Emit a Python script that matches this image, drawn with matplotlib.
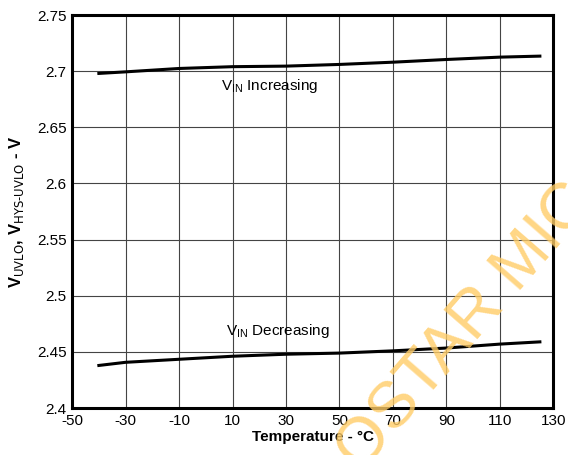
import matplotlib
matplotlib.use("Agg")
import matplotlib.pyplot as plt
import numpy as np

# Data
temp = [-40, -30, -10, 10, 30, 50, 70, 90, 110, 125]
v_increasing = [2.698, 2.6994, 2.7024, 2.704, 2.7045, 2.706, 2.708, 2.7104, 2.7125, 2.7134]
v_decreasing = [2.438, 2.4408, 2.4435, 2.4462, 2.448, 2.449, 2.451, 2.4535, 2.457, 2.459]

x_ticks = [-50, -30, -10, 10, 30, 50, 70, 90, 110, 130]
y_ticks = [2.4, 2.45, 2.5, 2.55, 2.6, 2.65, 2.7, 2.75]
y_ticklabels = ["2.4", "2.45", "2.5", "2.55", "2.6", "2.65", "2.7", "2.75"]

plt.rcParams['font.family'] = ['Liberation Sans', 'DejaVu Sans']
plt.rcParams['axes.unicode_minus'] = False

fig = plt.figure(figsize=(5.68, 4.55), dpi=100)
ax = fig.add_axes([0.127, 0.103, 0.847, 0.864])

ax.plot(temp, v_increasing, color='black', linewidth=2.2)
ax.plot(temp, v_decreasing, color='black', linewidth=2.2)

ax.set_xlim(-50, 130)
ax.set_ylim(2.4, 2.75)
ax.set_xticks(x_ticks)
ax.set_yticks(y_ticks)
ax.set_yticklabels(y_ticklabels)
ax.tick_params(length=0, labelsize=11, pad=4)
ax.grid(True, color='#444444', linewidth=0.8)
for s in ax.spines.values():
    s.set_linewidth(2.2)

ax.text(5.8, 2.6866, r'V$_{\mathregular{IN}}$ Increasing', fontsize=11, va='center', ha='left')
ax.text(7.6, 2.4687, r'V$_{\mathregular{IN}}$ Decreasing', fontsize=11, va='center', ha='left')

ax.set_xlabel('Temperature - °C', fontsize=11, fontweight='bold', labelpad=2)
ax.set_ylabel(r'V$_{\mathrm{UVLO}}$, V$_{\mathrm{HYS\text{-}UVLO}}$ - V', fontsize=12,
              fontweight='bold', labelpad=8)

# watermark
fig.text(0.575, -0.06, 'OSTAR MIC', fontsize=47, color='#FFCC66', alpha=0.8,
         rotation=49, ha='left', va='bottom', fontweight='light', zorder=10)

fig.savefig('out.png', dpi=100)
